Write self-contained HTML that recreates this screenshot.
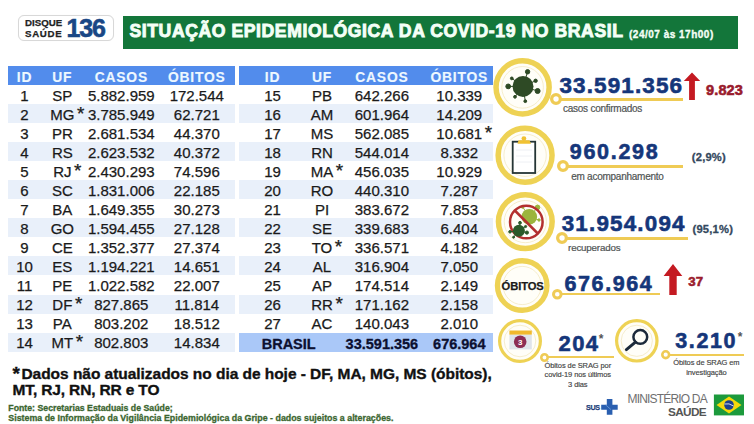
<!DOCTYPE html>
<html><head><meta charset="utf-8">
<style>
*{margin:0;padding:0;box-sizing:content-box}
html,body{width:754px;height:424px;overflow:hidden;background:#fff}
body{position:relative;font-family:"Liberation Sans",sans-serif}
.a{position:absolute;white-space:nowrap}
.logo{position:absolute;left:18px;top:14.5px;width:94px;height:24px;border:1px solid #d8d8d8;border-radius:6px;background:#fff;box-shadow:0 0 1px #eee}
.green{position:absolute;left:122.6px;top:16.3px;width:615.4px;height:32.5px;background:#13763a}
.th{position:absolute;background:#528cec}
.th span{position:absolute;top:0;height:100%;text-align:center;color:#eef8ff;font-weight:bold;font-size:13.8px;letter-spacing:0.85px;line-height:19px;padding-top:1.4px;-webkit-text-stroke:0.15px #eef8ff}
.tr{position:absolute;height:19.04px}
.tr.s{background:#e9f0fa}
.tr.br{background:#aac8f8}
.tr span{position:absolute;top:0;height:100%;text-align:center;color:#1a1a1a;font-size:15px;line-height:19px}
.tr span b{font-weight:normal;position:relative;top:0.5px;-webkit-text-stroke:0.25px #1a1a1a}
.tr.br span b{font-weight:bold;font-size:14.5px;color:#0c1030;-webkit-text-stroke:0.3px #0c1030;top:1.3px}
.tr i{font-style:normal;position:absolute;font-size:19px;font-weight:normal;top:-2px;margin-left:2.6px;-webkit-text-stroke:0.25px #1a1a1a}
.ring{position:absolute;border-style:solid;border-color:#efd055;border-radius:50%;background:#fffdf4}
.inr{position:absolute;left:2.5px;top:2.5px;right:2.5px;bottom:2.5px;border:1px solid #f3e6b8;border-radius:50%}
.num{position:absolute;color:#15367a;font-weight:bold;white-space:nowrap}
.line{position:absolute;height:2.6px;background:#efcb55}
.dot{position:absolute;width:4.6px;height:4.6px;border:3.2px solid #efcb55;border-radius:50%;background:#fff}
</style></head><body>
<div class="logo"></div>
<div class="a" style="left:25px;top:17.8px;font-size:9.7px;line-height:10.7px;font-weight:bold;color:#222;-webkit-text-stroke:0.25px #222"><span style="letter-spacing:0px">DISQUE</span><br><span style="letter-spacing:0.7px">SAÚDE</span></div>
<div class="a" style="left:66.5px;top:15.2px;font-size:25px;line-height:26px;font-weight:bold;color:#194785;letter-spacing:-1.1px;-webkit-text-stroke:0.6px #194785">136</div>
<div class="green"></div>
<div class="a" style="left:129.5px;top:20.6px;font-size:17.6px;line-height:20px;font-weight:bold;color:#f4fff6;letter-spacing:0.58px;-webkit-text-stroke:0.9px #f4fff6">SITUAÇÃO EPIDEMIOLÓGICA DA COVID-19 NO BRASIL</div>
<div class="a" style="left:629px;top:27.5px;font-size:10px;line-height:14px;font-weight:bold;color:#f4fff6;letter-spacing:0.5px;-webkit-text-stroke:0.35px #f4fff6">(24/07 às 17h00)</div>
<div class="th" style="left:8px;top:66.3px;width:226.6px;height:18.8px">
<span style="left:0.0px;width:33px">ID</span>
<span style="left:33.0px;width:42.6px">UF</span>
<span style="left:75.6px;width:75.4px">CASOS</span>
<span style="left:151.0px;width:75.6px">ÓBITOS</span>
</div>
<div class="tr" style="left:8px;top:85.10px;width:226.6px">
<span style="left:0.0px;width:33px"><b>1</b></span>
<span style="left:33.0px;width:42.6px"><b>SP</b></span>
<span style="left:75.6px;width:75.4px"><b>5.882.959</b></span>
<span style="left:151.0px;width:75.6px"><b>172.544</b></span>
</div>
<div class="tr s" style="left:8px;top:104.14px;width:226.6px">
<span style="left:0.0px;width:33px"><b>2</b></span>
<span style="left:33.0px;width:42.6px"><b>MG<i>*</i></b></span>
<span style="left:75.6px;width:75.4px"><b>3.785.949</b></span>
<span style="left:151.0px;width:75.6px"><b>62.721</b></span>
</div>
<div class="tr" style="left:8px;top:123.18px;width:226.6px">
<span style="left:0.0px;width:33px"><b>3</b></span>
<span style="left:33.0px;width:42.6px"><b>PR</b></span>
<span style="left:75.6px;width:75.4px"><b>2.681.534</b></span>
<span style="left:151.0px;width:75.6px"><b>44.370</b></span>
</div>
<div class="tr s" style="left:8px;top:142.22px;width:226.6px">
<span style="left:0.0px;width:33px"><b>4</b></span>
<span style="left:33.0px;width:42.6px"><b>RS</b></span>
<span style="left:75.6px;width:75.4px"><b>2.623.532</b></span>
<span style="left:151.0px;width:75.6px"><b>40.372</b></span>
</div>
<div class="tr" style="left:8px;top:161.26px;width:226.6px">
<span style="left:0.0px;width:33px"><b>5</b></span>
<span style="left:33.0px;width:42.6px"><b>RJ<i>*</i></b></span>
<span style="left:75.6px;width:75.4px"><b>2.430.293</b></span>
<span style="left:151.0px;width:75.6px"><b>74.596</b></span>
</div>
<div class="tr s" style="left:8px;top:180.30px;width:226.6px">
<span style="left:0.0px;width:33px"><b>6</b></span>
<span style="left:33.0px;width:42.6px"><b>SC</b></span>
<span style="left:75.6px;width:75.4px"><b>1.831.006</b></span>
<span style="left:151.0px;width:75.6px"><b>22.185</b></span>
</div>
<div class="tr" style="left:8px;top:199.34px;width:226.6px">
<span style="left:0.0px;width:33px"><b>7</b></span>
<span style="left:33.0px;width:42.6px"><b>BA</b></span>
<span style="left:75.6px;width:75.4px"><b>1.649.355</b></span>
<span style="left:151.0px;width:75.6px"><b>30.273</b></span>
</div>
<div class="tr s" style="left:8px;top:218.38px;width:226.6px">
<span style="left:0.0px;width:33px"><b>8</b></span>
<span style="left:33.0px;width:42.6px"><b>GO</b></span>
<span style="left:75.6px;width:75.4px"><b>1.594.455</b></span>
<span style="left:151.0px;width:75.6px"><b>27.128</b></span>
</div>
<div class="tr" style="left:8px;top:237.42px;width:226.6px">
<span style="left:0.0px;width:33px"><b>9</b></span>
<span style="left:33.0px;width:42.6px"><b>CE</b></span>
<span style="left:75.6px;width:75.4px"><b>1.352.377</b></span>
<span style="left:151.0px;width:75.6px"><b>27.374</b></span>
</div>
<div class="tr s" style="left:8px;top:256.46px;width:226.6px">
<span style="left:0.0px;width:33px"><b>10</b></span>
<span style="left:33.0px;width:42.6px"><b>ES</b></span>
<span style="left:75.6px;width:75.4px"><b>1.194.221</b></span>
<span style="left:151.0px;width:75.6px"><b>14.651</b></span>
</div>
<div class="tr" style="left:8px;top:275.50px;width:226.6px">
<span style="left:0.0px;width:33px"><b>11</b></span>
<span style="left:33.0px;width:42.6px"><b>PE</b></span>
<span style="left:75.6px;width:75.4px"><b>1.022.582</b></span>
<span style="left:151.0px;width:75.6px"><b>22.007</b></span>
</div>
<div class="tr s" style="left:8px;top:294.54px;width:226.6px">
<span style="left:0.0px;width:33px"><b>12</b></span>
<span style="left:33.0px;width:42.6px"><b>DF<i>*</i></b></span>
<span style="left:75.6px;width:75.4px"><b>827.865</b></span>
<span style="left:151.0px;width:75.6px"><b>11.814</b></span>
</div>
<div class="tr" style="left:8px;top:313.58px;width:226.6px">
<span style="left:0.0px;width:33px"><b>13</b></span>
<span style="left:33.0px;width:42.6px"><b>PA</b></span>
<span style="left:75.6px;width:75.4px"><b>803.202</b></span>
<span style="left:151.0px;width:75.6px"><b>18.512</b></span>
</div>
<div class="tr s" style="left:8px;top:332.62px;width:226.6px">
<span style="left:0.0px;width:33px"><b>14</b></span>
<span style="left:33.0px;width:42.6px"><b>MT<i>*</i></b></span>
<span style="left:75.6px;width:75.4px"><b>802.803</b></span>
<span style="left:151.0px;width:75.6px"><b>14.834</b></span>
</div>
<div class="th" style="left:239.2px;top:66.3px;width:253.8px;height:18.8px">
<span style="left:0.0px;width:66.6px">ID</span>
<span style="left:66.6px;width:32.4px">UF</span>
<span style="left:99.0px;width:87.4px">CASOS</span>
<span style="left:186.4px;width:67.4px">ÓBITOS</span>
</div>
<div class="tr" style="left:239.2px;top:85.10px;width:253.8px">
<span style="left:0.0px;width:66.6px"><b>15</b></span>
<span style="left:66.6px;width:32.4px"><b>PB</b></span>
<span style="left:99.0px;width:87.4px"><b>642.266</b></span>
<span style="left:186.4px;width:67.4px"><b>10.339</b></span>
</div>
<div class="tr s" style="left:239.2px;top:104.14px;width:253.8px">
<span style="left:0.0px;width:66.6px"><b>16</b></span>
<span style="left:66.6px;width:32.4px"><b>AM</b></span>
<span style="left:99.0px;width:87.4px"><b>601.964</b></span>
<span style="left:186.4px;width:67.4px"><b>14.209</b></span>
</div>
<div class="tr" style="left:239.2px;top:123.18px;width:253.8px">
<span style="left:0.0px;width:66.6px"><b>17</b></span>
<span style="left:66.6px;width:32.4px"><b>MS</b></span>
<span style="left:99.0px;width:87.4px"><b>562.085</b></span>
<span style="left:186.4px;width:67.4px"><b>10.681<i>*</i></b></span>
</div>
<div class="tr s" style="left:239.2px;top:142.22px;width:253.8px">
<span style="left:0.0px;width:66.6px"><b>18</b></span>
<span style="left:66.6px;width:32.4px"><b>RN</b></span>
<span style="left:99.0px;width:87.4px"><b>544.014</b></span>
<span style="left:186.4px;width:67.4px"><b>8.332</b></span>
</div>
<div class="tr" style="left:239.2px;top:161.26px;width:253.8px">
<span style="left:0.0px;width:66.6px"><b>19</b></span>
<span style="left:66.6px;width:32.4px"><b>MA<i>*</i></b></span>
<span style="left:99.0px;width:87.4px"><b>456.035</b></span>
<span style="left:186.4px;width:67.4px"><b>10.929</b></span>
</div>
<div class="tr s" style="left:239.2px;top:180.30px;width:253.8px">
<span style="left:0.0px;width:66.6px"><b>20</b></span>
<span style="left:66.6px;width:32.4px"><b>RO</b></span>
<span style="left:99.0px;width:87.4px"><b>440.310</b></span>
<span style="left:186.4px;width:67.4px"><b>7.287</b></span>
</div>
<div class="tr" style="left:239.2px;top:199.34px;width:253.8px">
<span style="left:0.0px;width:66.6px"><b>21</b></span>
<span style="left:66.6px;width:32.4px"><b>PI</b></span>
<span style="left:99.0px;width:87.4px"><b>383.672</b></span>
<span style="left:186.4px;width:67.4px"><b>7.853</b></span>
</div>
<div class="tr s" style="left:239.2px;top:218.38px;width:253.8px">
<span style="left:0.0px;width:66.6px"><b>22</b></span>
<span style="left:66.6px;width:32.4px"><b>SE</b></span>
<span style="left:99.0px;width:87.4px"><b>339.683</b></span>
<span style="left:186.4px;width:67.4px"><b>6.404</b></span>
</div>
<div class="tr" style="left:239.2px;top:237.42px;width:253.8px">
<span style="left:0.0px;width:66.6px"><b>23</b></span>
<span style="left:66.6px;width:32.4px"><b>TO<i>*</i></b></span>
<span style="left:99.0px;width:87.4px"><b>336.571</b></span>
<span style="left:186.4px;width:67.4px"><b>4.182</b></span>
</div>
<div class="tr s" style="left:239.2px;top:256.46px;width:253.8px">
<span style="left:0.0px;width:66.6px"><b>24</b></span>
<span style="left:66.6px;width:32.4px"><b>AL</b></span>
<span style="left:99.0px;width:87.4px"><b>316.904</b></span>
<span style="left:186.4px;width:67.4px"><b>7.050</b></span>
</div>
<div class="tr" style="left:239.2px;top:275.50px;width:253.8px">
<span style="left:0.0px;width:66.6px"><b>25</b></span>
<span style="left:66.6px;width:32.4px"><b>AP</b></span>
<span style="left:99.0px;width:87.4px"><b>174.514</b></span>
<span style="left:186.4px;width:67.4px"><b>2.149</b></span>
</div>
<div class="tr s" style="left:239.2px;top:294.54px;width:253.8px">
<span style="left:0.0px;width:66.6px"><b>26</b></span>
<span style="left:66.6px;width:32.4px"><b>RR<i>*</i></b></span>
<span style="left:99.0px;width:87.4px"><b>171.162</b></span>
<span style="left:186.4px;width:67.4px"><b>2.158</b></span>
</div>
<div class="tr" style="left:239.2px;top:313.58px;width:253.8px">
<span style="left:0.0px;width:66.6px"><b>27</b></span>
<span style="left:66.6px;width:32.4px"><b>AC</b></span>
<span style="left:99.0px;width:87.4px"><b>140.043</b></span>
<span style="left:186.4px;width:67.4px"><b>2.010</b></span>
</div>
<div class="tr br" style="left:239.2px;top:332.62px;width:253.8px">
<span style="left:0px;width:99.0px"><b>BRASIL</b></span>
<span style="left:99.0px;width:87.4px"><b>33.591.356</b></span>
<span style="left:186.4px;width:67.4px"><b>676.964</b></span>
</div>
<svg class="a" style="left:0;top:0" width="754" height="424"><circle cx="522.6" cy="87.35" r="26.55" fill="#fffef8" stroke="#eed254" stroke-width="5.5"/><circle cx="522.6" cy="87.35" r="20.80" fill="none" stroke="#f4e8c0" stroke-width="0.8"/><circle cx="525.1" cy="155.2" r="26.95" fill="#fffef8" stroke="#eed254" stroke-width="5.5"/><circle cx="525.1" cy="155.2" r="21.20" fill="none" stroke="#f4e8c0" stroke-width="0.8"/><circle cx="525.3" cy="221.6" r="26.85" fill="#fffef8" stroke="#eed254" stroke-width="5.5"/><circle cx="525.3" cy="221.6" r="21.10" fill="none" stroke="#f4e8c0" stroke-width="0.8"/><circle cx="522.2" cy="285.5" r="24.75" fill="#fffef8" stroke="#eed254" stroke-width="5.3"/><circle cx="522.2" cy="285.5" r="19.10" fill="none" stroke="#f4e8c0" stroke-width="0.8"/><circle cx="520" cy="341" r="20.40" fill="#fffef8" stroke="#eed254" stroke-width="3.2"/><circle cx="520" cy="341" r="15.80" fill="none" stroke="#f4e8c0" stroke-width="0.8"/><circle cx="636.8" cy="340.8" r="20.20" fill="#fffef8" stroke="#eed254" stroke-width="3.2"/><circle cx="636.8" cy="340.8" r="15.60" fill="none" stroke="#f4e8c0" stroke-width="0.8"/></svg>
<div class="line" style="left:556.3px;top:97.9px;width:126.4px;height:2.8px"></div><svg class="a" style="left:549.3px;top:92.3px" width="14.0" height="14.0"><circle cx="7.00" cy="7.00" r="4.35" fill="#fff" stroke="#efcb55" stroke-width="3.3"/></svg>
<div class="line" style="left:563.0px;top:164.9px;width:119.7px;height:2.8px"></div><svg class="a" style="left:556.0px;top:159.3px" width="14.0" height="14.0"><circle cx="7.00" cy="7.00" r="4.35" fill="#fff" stroke="#efcb55" stroke-width="3.3"/></svg>
<div class="line" style="left:562.0px;top:236.8px;width:125.5px;height:3px"></div><svg class="a" style="left:555.0px;top:231.3px" width="14.0" height="14.0"><circle cx="7.00" cy="7.00" r="4.35" fill="#fff" stroke="#efcb55" stroke-width="3.3"/></svg>
<div class="line" style="left:557.7px;top:292.9px;width:102.8px;height:2.4px"></div><svg class="a" style="left:551.4px;top:287.8px" width="12.6" height="12.6"><circle cx="6.30" cy="6.30" r="3.80" fill="#fff" stroke="#efcb55" stroke-width="3"/></svg>
<div class="line" style="left:544.2px;top:356.2px;width:70.1px;height:2.2px"></div><svg class="a" style="left:538.7px;top:351.8px" width="11.0" height="11.0"><circle cx="5.50" cy="5.50" r="3.20" fill="#fff" stroke="#efcb55" stroke-width="2.6"/></svg>
<div class="line" style="left:665.4px;top:353.9px;width:78.2px;height:2.2px"></div><svg class="a" style="left:659.7px;top:349.3px" width="11.4" height="11.4"><circle cx="5.70" cy="5.70" r="3.40" fill="#fff" stroke="#efcb55" stroke-width="2.6"/></svg>
<svg class="a" style="left:0;top:0" width="754" height="424" viewBox="0 0 754 424">
<g stroke="#2e4a25" stroke-width="1" fill="#2e4a25">
<line x1="523" y1="86.4" x2="527.6" y2="71.8"/><circle cx="527.6" cy="71.8" r="2.2"/>
<line x1="523" y1="86.4" x2="535.6" y2="80.8"/><circle cx="535.6" cy="80.8" r="1.7"/>
<line x1="523" y1="86.4" x2="537.6" y2="91"/><circle cx="537.6" cy="91" r="2.5"/>
<line x1="523" y1="86.4" x2="525.3" y2="101.2"/><circle cx="525.3" cy="101.2" r="1.4"/>
<line x1="523" y1="86.4" x2="515" y2="96.8"/><circle cx="515" cy="96.8" r="1.4"/>
<line x1="523" y1="86.4" x2="508.2" y2="86.4"/><circle cx="508.2" cy="86.4" r="2.4"/>
<line x1="523" y1="86.4" x2="511.8" y2="78.4"/><circle cx="511.8" cy="78.4" r="1.4"/>
<circle cx="523" cy="86.4" r="10.5" stroke="none"/>
</g>
<!-- clipboard -->
<rect x="512.7" y="141.7" width="22.5" height="31.3" fill="#fff" stroke="#253535" stroke-width="1.8"/>
<path d="M517.5 143.8 L518.5 140.2 L529.5 140.2 L531 143.8 Z" fill="#f1c232"/>
<circle cx="523.9" cy="138.6" r="2.4" fill="#f1c232"/>
<g stroke="#eef0f4" stroke-width="1"><line x1="516" y1="150" x2="532" y2="150"/><line x1="516" y1="156" x2="532" y2="156"/><line x1="516" y1="162" x2="532" y2="162"/></g>
<!-- recovered -->
<g fill="#9bb53c" stroke="#9bb53c" stroke-width="1">
<line x1="529.3" y1="216.8" x2="537.5" y2="207.4"/><circle cx="537.5" cy="207.4" r="2.3"/>
<line x1="529.3" y1="216.8" x2="522.6" y2="206.9"/><circle cx="522.6" cy="206.9" r="1.4"/>
<line x1="529.3" y1="216.8" x2="539" y2="220"/><circle cx="539" cy="220" r="1.2"/>
<circle cx="529.3" cy="216.8" r="7.8" stroke="none"/>
</g>
<circle cx="526.3" cy="222" r="16.3" fill="none" stroke="#b3302f" stroke-width="2.5"/>
<line x1="514.8" y1="210.5" x2="537.8" y2="233.5" stroke="#b3302f" stroke-width="2.5"/>
<g fill="#2b5a2a" stroke="#2b5a2a" stroke-width="1">
<line x1="518.9" y1="230.8" x2="520" y2="222.8"/><circle cx="520" cy="222.8" r="1.4"/>
<line x1="518.9" y1="230.8" x2="526.9" y2="232.6"/><circle cx="526.9" cy="232.6" r="1.6"/>
<line x1="518.9" y1="230.8" x2="525.6" y2="226.5"/><circle cx="525.6" cy="226.5" r="1.1"/>
<line x1="518.9" y1="230.8" x2="510" y2="231.8"/><circle cx="510" cy="231.8" r="1.3"/>
<line x1="518.9" y1="230.8" x2="513.6" y2="237.2"/><circle cx="513.6" cy="237.2" r="1"/>
<circle cx="518.9" cy="230.8" r="6" stroke="none"/>
</g>
<!-- calendar -->
<rect x="509.4" y="334.4" width="22.4" height="15" fill="#dfe4ea"/>
<rect x="509.4" y="330.5" width="22.4" height="4.1" fill="#f1b82d"/>
<circle cx="520.2" cy="341.7" r="6.3" fill="#8d2d54"/>
<text x="520.2" y="344.6" font-family="Liberation Sans" font-weight="bold" font-size="8" fill="#fff" text-anchor="middle">3</text>
<!-- magnifier -->
<circle cx="640.3" cy="336.9" r="6.9" fill="none" stroke="#1c2a3a" stroke-width="2.5"/>
<line x1="635.4" y1="342.2" x2="626.4" y2="349.6" stroke="#1c2a3a" stroke-width="3" stroke-linecap="round"/>
<!-- arrows -->
<path d="M683.8 81 L692 72.4 L700.2 81 L694.9 81 L694.9 100 L689.1 100 L689.1 81 Z" fill="#c41a22"/>
<path d="M663.6 276 L673 264.1 L682.3 276 L676.7 276 L676.7 295 L669.3 295 L669.3 276 Z" fill="#c41a22"/>
<!-- SUS cross -->
<path d="M606.8 399.1 h5.6 v5.6 h5.3 v5 h-5.3 v5.1 h-5.6 v-5.1 h-5.6 v-5 h5.6 z" fill="#2a5fb0"/><line x1="605.5" y1="404.8" x2="611" y2="409.6" stroke="#7fb0e8" stroke-width="0.6"/>
<!-- flag -->
<rect x="713.9" y="394.5" width="30.1" height="20.9" fill="#1c9a3c"/>
<path d="M716.5 405 L729 396.6 L741.5 405 L729 413.4 Z" fill="#f5d90a"/>
<circle cx="729" cy="405" r="4.8" fill="#1d3f8e"/>
<path d="M724.4 404 Q729 402.8 733.6 406" stroke="#fff" stroke-width="0.8" fill="none"/>
</svg>
<div class="num" style="left:559.5px;top:75.3px;font-size:22.5px;line-height:22.5px;letter-spacing:1.1px;color:#15367a;-webkit-text-stroke:0.6px #15367a">33.591.356</div>
<div class="num" style="left:569.8px;top:142.1px;font-size:21.5px;line-height:21.5px;letter-spacing:1.7px;color:#15367a;-webkit-text-stroke:0.6px #15367a">960.298</div>
<div class="num" style="left:561.7px;top:213.4px;font-size:22.4px;line-height:22.4px;letter-spacing:1.2px;color:#15367a;-webkit-text-stroke:0.6px #15367a">31.954.094</div>
<div class="num" style="left:564.5px;top:274.0px;font-size:21.5px;line-height:21.5px;letter-spacing:1.6px;color:#15367a;-webkit-text-stroke:0.6px #15367a">676.964</div>
<div class="num" style="left:558.6px;top:333.3px;font-size:22px;line-height:22px;letter-spacing:1.4px;color:#15367a;-webkit-text-stroke:0.6px #15367a">204</div>
<div class="num" style="left:675.3px;top:331.1px;font-size:21.5px;line-height:21.5px;letter-spacing:1.6px;color:#15367a;-webkit-text-stroke:0.6px #15367a">3.210</div>
<div class="num" style="left:706.1px;top:82.9px;font-size:14.5px;line-height:14.5px;letter-spacing:0.12px;color:#9a1b2d;-webkit-text-stroke:0.6px #9a1b2d">9.823</div>
<div class="num" style="left:688.3px;top:275.0px;font-size:13.2px;line-height:13.2px;letter-spacing:0px;color:#9a1b2d;-webkit-text-stroke:0.6px #9a1b2d">37</div>
<div class="a" style="left:563.0px;top:104.2px;font-size:10px;line-height:10px;letter-spacing:-0.25px;color:#505454;font-weight:normal;-webkit-text-stroke:0.2px #505454">casos confirmados</div>
<div class="a" style="left:571.2px;top:171.7px;font-size:10px;line-height:10px;letter-spacing:-0.25px;color:#505454;font-weight:normal;-webkit-text-stroke:0.2px #505454">em acompanhamento</div>
<div class="a" style="left:568.1px;top:242.6px;font-size:9.8px;line-height:9.8px;letter-spacing:-0.2px;color:#505454;font-weight:normal;-webkit-text-stroke:0.2px #505454">recuperados</div>
<div class="a" style="left:691.8px;top:151.5px;font-size:11.2px;line-height:11.2px;letter-spacing:0.2px;color:#34485e;font-weight:bold;-webkit-text-stroke:0.3px #34485e">(2,9%)</div>
<div class="a" style="left:692.5px;top:223.5px;font-size:11.2px;line-height:11.2px;letter-spacing:0.2px;color:#34485e;font-weight:bold;-webkit-text-stroke:0.3px #34485e">(95,1%)</div>
<div class="a" style="left:501.6px;top:281.0px;font-size:11.2px;line-height:11.2px;letter-spacing:-0.1px;color:#1a1a1a;font-weight:bold;-webkit-text-stroke:0.25px #1a1a1a">ÓBITOS</div>
<div class="a" style="left:533px;top:329px;width:60px;font-size:7.3px;line-height:9.7px;color:#4a4a4a;text-align:center"></div>
<div class="a" style="left:537.8px;top:360.7px;width:80px;font-size:7.5px;line-height:9.7px;color:#444;text-align:center;white-space:normal;letter-spacing:-0.1px;-webkit-text-stroke:0.15px #444">Óbitos de SRAG por<br>covid-19 nos últimos<br>3 dias</div>
<div class="a" style="left:666.4px;top:358.2px;width:80px;font-size:7.5px;line-height:9.7px;color:#444;text-align:center;white-space:normal;letter-spacing:-0.1px;-webkit-text-stroke:0.15px #444">Óbitos de SRAG em<br>investigação</div>
<div class="a" style="left:598.8px;top:333.0px;font-size:12px;line-height:12px;letter-spacing:0px;color:#555;font-weight:bold;">*</div>
<div class="a" style="left:737.7px;top:331.1px;font-size:12px;line-height:12px;letter-spacing:0px;color:#555;font-weight:bold;">*</div>
<div class="a" style="left:586.0px;top:403.7px;font-size:7.2px;line-height:7.2px;letter-spacing:-0.4px;color:#1d3f7a;font-weight:bold;-webkit-text-stroke:0.25px #1d3f7a">SUS</div>
<div class="a" style="left:627.5px;top:393.0px;font-size:12px;line-height:12px;letter-spacing:-0.82px;color:#707070;font-weight:normal;">MINISTÉRIO DA</div>
<div class="a" style="left:668.0px;top:406.5px;font-size:11.8px;line-height:11.8px;letter-spacing:-0.65px;color:#555;font-weight:bold;">SAÚDE</div>
<div class="a" style="left:12.6px;top:364.6px;font-size:15.5px;line-height:15.5px;letter-spacing:-0.04px;color:#111;font-weight:bold;-webkit-text-stroke:0.35px #111"><span style="font-size:19px;position:relative;top:1.5px;margin-right:1.5px">*</span>Dados não atualizados no dia de hoje - DF, MA, MG, MS (óbitos),</div>
<div class="a" style="left:12.6px;top:381.7px;font-size:15.5px;line-height:15.5px;letter-spacing:-0.15px;color:#111;font-weight:bold;-webkit-text-stroke:0.35px #111">MT, RJ, RN, RR e TO</div>
<div class="a" style="left:8.3px;top:403.9px;font-size:8.75px;line-height:8.75px;letter-spacing:0px;color:#3b6630;font-weight:bold;-webkit-text-stroke:0.3px #3b6630">Fonte: Secretarias Estaduais de Saúde;</div>
<div class="a" style="left:8.3px;top:413.9px;font-size:8.85px;line-height:8.85px;letter-spacing:0px;color:#3b6630;font-weight:bold;-webkit-text-stroke:0.3px #3b6630">Sistema de Informação da Vigilância Epidemiológica da Gripe - dados sujeitos a alterações.</div>
</body></html>
